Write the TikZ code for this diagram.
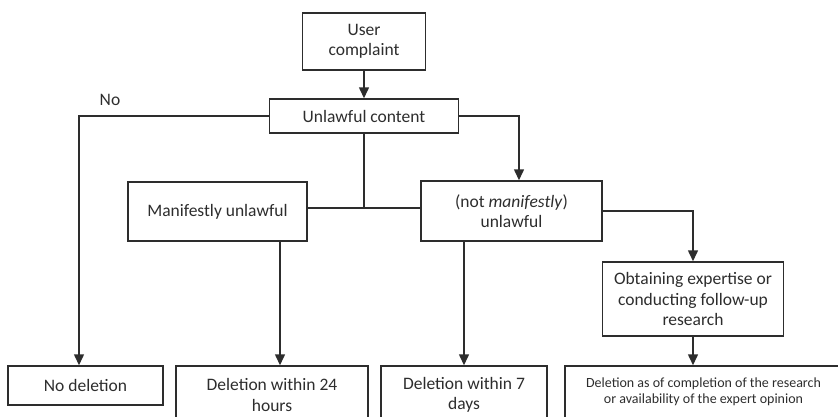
\documentclass[tikz,border=0pt]{standalone}
\usepackage{fontspec}
\setmainfont{Carlito}
\usepackage{tikz}
\usetikzlibrary{arrows.meta}
\definecolor{darkline}{RGB}{45,45,45}

\begin{document}
\begin{tikzpicture}[x=1pt,y=-1pt,
	box/.style={draw=darkline,line width=1.5pt,align=center,inner sep=0pt,text=darkline,font=\fontsize{17.5}{20.5}\selectfont},
	smallbox/.style={box,font=\fontsize{14}{16}\selectfont},
	flow/.style={draw=darkline,line width=1.5pt,-{Triangle[width=10pt,length=11pt]}},
	link/.style={draw=darkline,line width=1.5pt}]
		\useasboundingbox (0,0) rectangle (838,416);
		\coordinate (c_no) at (79,116);
		\coordinate (c_yes) at (519,116);
		\coordinate (c_join) at (364,208);
		\coordinate (c_24) at (280,0);
		\node[box,minimum width=123pt,minimum height=57pt] (complaint) at (364,41.5) {User\\complaint};
		\node[box,minimum width=189pt,minimum height=34pt] (unlawful) at (364,116) {Unlawful content};
		\node[box,minimum width=179pt,minimum height=59pt] (manifest) at (217.5,211.5) {Manifestly unlawful};
		\node[box,minimum width=181pt,minimum height=60pt] (notmanifest) at (511.5,211) {(not \emph{manifestly})\\unlawful};
		\node[box,minimum width=181pt,minimum height=74pt] (obtain) at (693,299) {Obtaining expertise or\\conducting follow-up\\research};
		\node[box,minimum width=155pt,minimum height=39pt] (nodel) at (85.5,385.5) {No deletion};
		\node[box,minimum width=192pt,minimum height=58pt] (del24) at (272,395) {Deletion within 24\\hours};
		\node[box,minimum width=166pt,minimum height=58pt] (del7) at (464,395) {Deletion within 7\\days};
		\node[smallbox,minimum width=277pt,minimum height=52pt] (delres) at (703.5,392) {Deletion as of completion of the research\\or availability of the expert opinion};
		\node[text=darkline,font=\fontsize{17.5}{20.5}\selectfont] (nolabel) at (110,100) {No};

		\draw[flow] (complaint) -- (unlawful);
		\draw[flow] (unlawful.west) -- (c_no) -- (c_no |- nodel.north);
		\draw[flow] (unlawful.east) -- (c_yes) -- (c_yes |- notmanifest.north);
		\draw[link] (unlawful.south) -- (c_join);
		\draw[link] (manifest.east |- c_join) -- (notmanifest.west |- c_join);
		\draw[flow] (manifest.south -| c_24) -- (del24.north -| c_24);
		\draw[flow] (notmanifest.south -| del7.north) -- (del7.north);
		\draw[flow] (notmanifest.east) -| (obtain.north);
		\draw[flow] (obtain.south) -- (delres.north -| obtain.south);
	\end{tikzpicture}
\end{document}
